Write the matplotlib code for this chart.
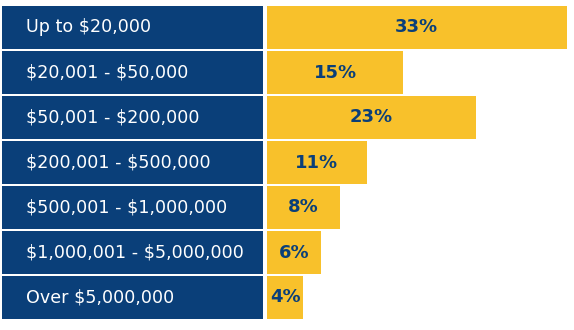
import numpy as np
import matplotlib.pyplot as plt

# revenue bands and share of respondents in each
bands = ["Up to $20,000", "$20,001 - $50,000", "$50,001 - $200,000",
         "$200,001 - $500,000", "$500,001 - $1,000,000",
         "$1,000,001 - $5,000,000", "Over $5,000,000"]
shares = [33, 15, 23, 11, 8, 6, 4]

navy = "#0a3f79"
gold = "#f8c12b"

fig = plt.figure(figsize=(5.74, 3.30), dpi=100)
W, H = 574, 330
y = np.arange(len(bands))

# left column: navy boxes holding the band names
axl = fig.add_axes([2 / W, 10 / H, 261 / W, 315 / H])
axl.barh(y, [1] * len(bands), height=0.955, color=navy)
for yi, name in zip(y, bands):
    axl.text(0.092, yi, name, color="white", va="center", ha="left",
             fontsize=12.6, family="DejaVu Sans", parse_math=False)
axl.set_xlim(0, 1)
axl.set_ylim(len(bands) - 0.5, -0.5)
axl.axis("off")

# right column: gold bars with the percentage inside
axr = fig.add_axes([267 / W, 10 / H, 307 / W, 315 / H])
axr.barh(y, shares, height=0.955, color=gold)
for yi, v in zip(y, shares):
    axr.text(v / 2, yi, f"{v}%", color=navy, va="center", ha="center",
             fontsize=13, fontweight="bold", family="DejaVu Sans",
             parse_math=False)
axr.set_xlim(0, 33.8)
axr.set_ylim(len(bands) - 0.5, -0.5)
axr.axis("off")

fig.savefig("out.png", dpi=100)
